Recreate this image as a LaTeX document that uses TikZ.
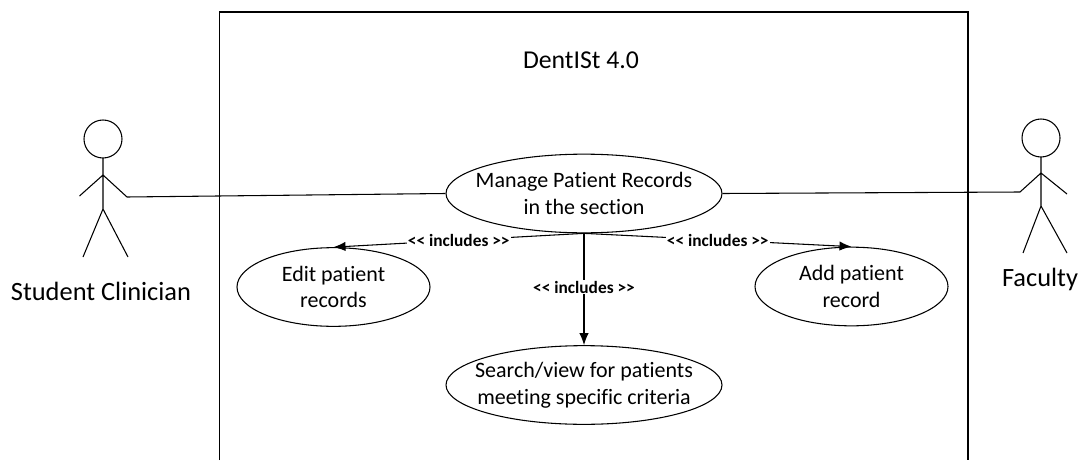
\documentclass[tikz,border=0pt]{standalone}
\usepackage{fontspec}
\setmainfont[Ligatures=NoCommon]{Carlito}
\usetikzlibrary{shapes.geometric,arrows.meta}
\newcommand{\includes}{{<}{<} includes {>}{>}}
\tikzset{
  usecase/.style={draw, ellipse, minimum width=#1*0.75pt, minimum height=59pt, inner xsep=-25pt, inner ysep=-12pt, align=center, font=\fontsize{16.5}{20}\selectfont},
  usecase/.default=276,
  inclabel/.style={fill=white, inner sep=1pt, font=\fontsize{13}{14}\selectfont\bfseries},
  actorlabel/.style={font=\fontsize{19.8}{22}\selectfont},
  incarrow/.style={-{Latex[length=9pt,width=7pt]}},
}
\begin{document}
\begin{tikzpicture}[x=0.75pt, y=-0.75pt, line width=0.8pt]
      \useasboundingbox (0, 0) rectangle (1084, 460);
      \draw[line width=1pt] (219.5, 460) -- (219.5, 12) -- (968, 12) -- (968, 460);
      \node (title) [font=\fontsize{19.3}{22}\selectfont] at (581, 60) {DentISt 4.0};
      \node (manage) [usecase] at (584, 193.5) {Manage Patient Records\\in the section};
      \node (edit) [usecase=193] at (333.5, 287) {Edit patient\\records};
      \node (add) [usecase=193] at (851.5, 286.5) {Add patient\\record};
      \node (search) [usecase] at (584, 385) {Search/view for patients\\meeting specific criteria};
      % student clinician
      \draw (103, 139) circle (19);
      \draw (103, 158) -- (103, 209) (79.5, 196) -- (103, 175) -- (127, 197)
            (83, 257) -- (103, 209) -- (128, 257);
      \coordinate (lefthand) at (127, 197);
      \node (student) [actorlabel] at (101, 291) {Student Clinician};
      % faculty
      \draw (1041, 138) circle (19);
      \draw (1041, 157) -- (1041, 206) (1020, 192) -- (1041, 173) -- (1067, 194)
            (1023, 253) -- (1041, 206) -- (1067, 253);
      \coordinate (righthand) at (1020, 192);
      \node (faculty) [actorlabel] at (1040, 279) {Faculty};
      \draw (lefthand) -- (manage.west)
            (manage.east) -- (righthand);
      \draw[incarrow] (manage.south) -- node [inclabel, pos=.5] {\includes} (edit.north);
      \draw[incarrow] (manage.south) -- node [inclabel, pos=.5] {\includes} (add.north);
      \draw[incarrow] (manage.south) -- node [inclabel, pos=.48] {\includes} (search.north);
\end{tikzpicture}
\end{document}
